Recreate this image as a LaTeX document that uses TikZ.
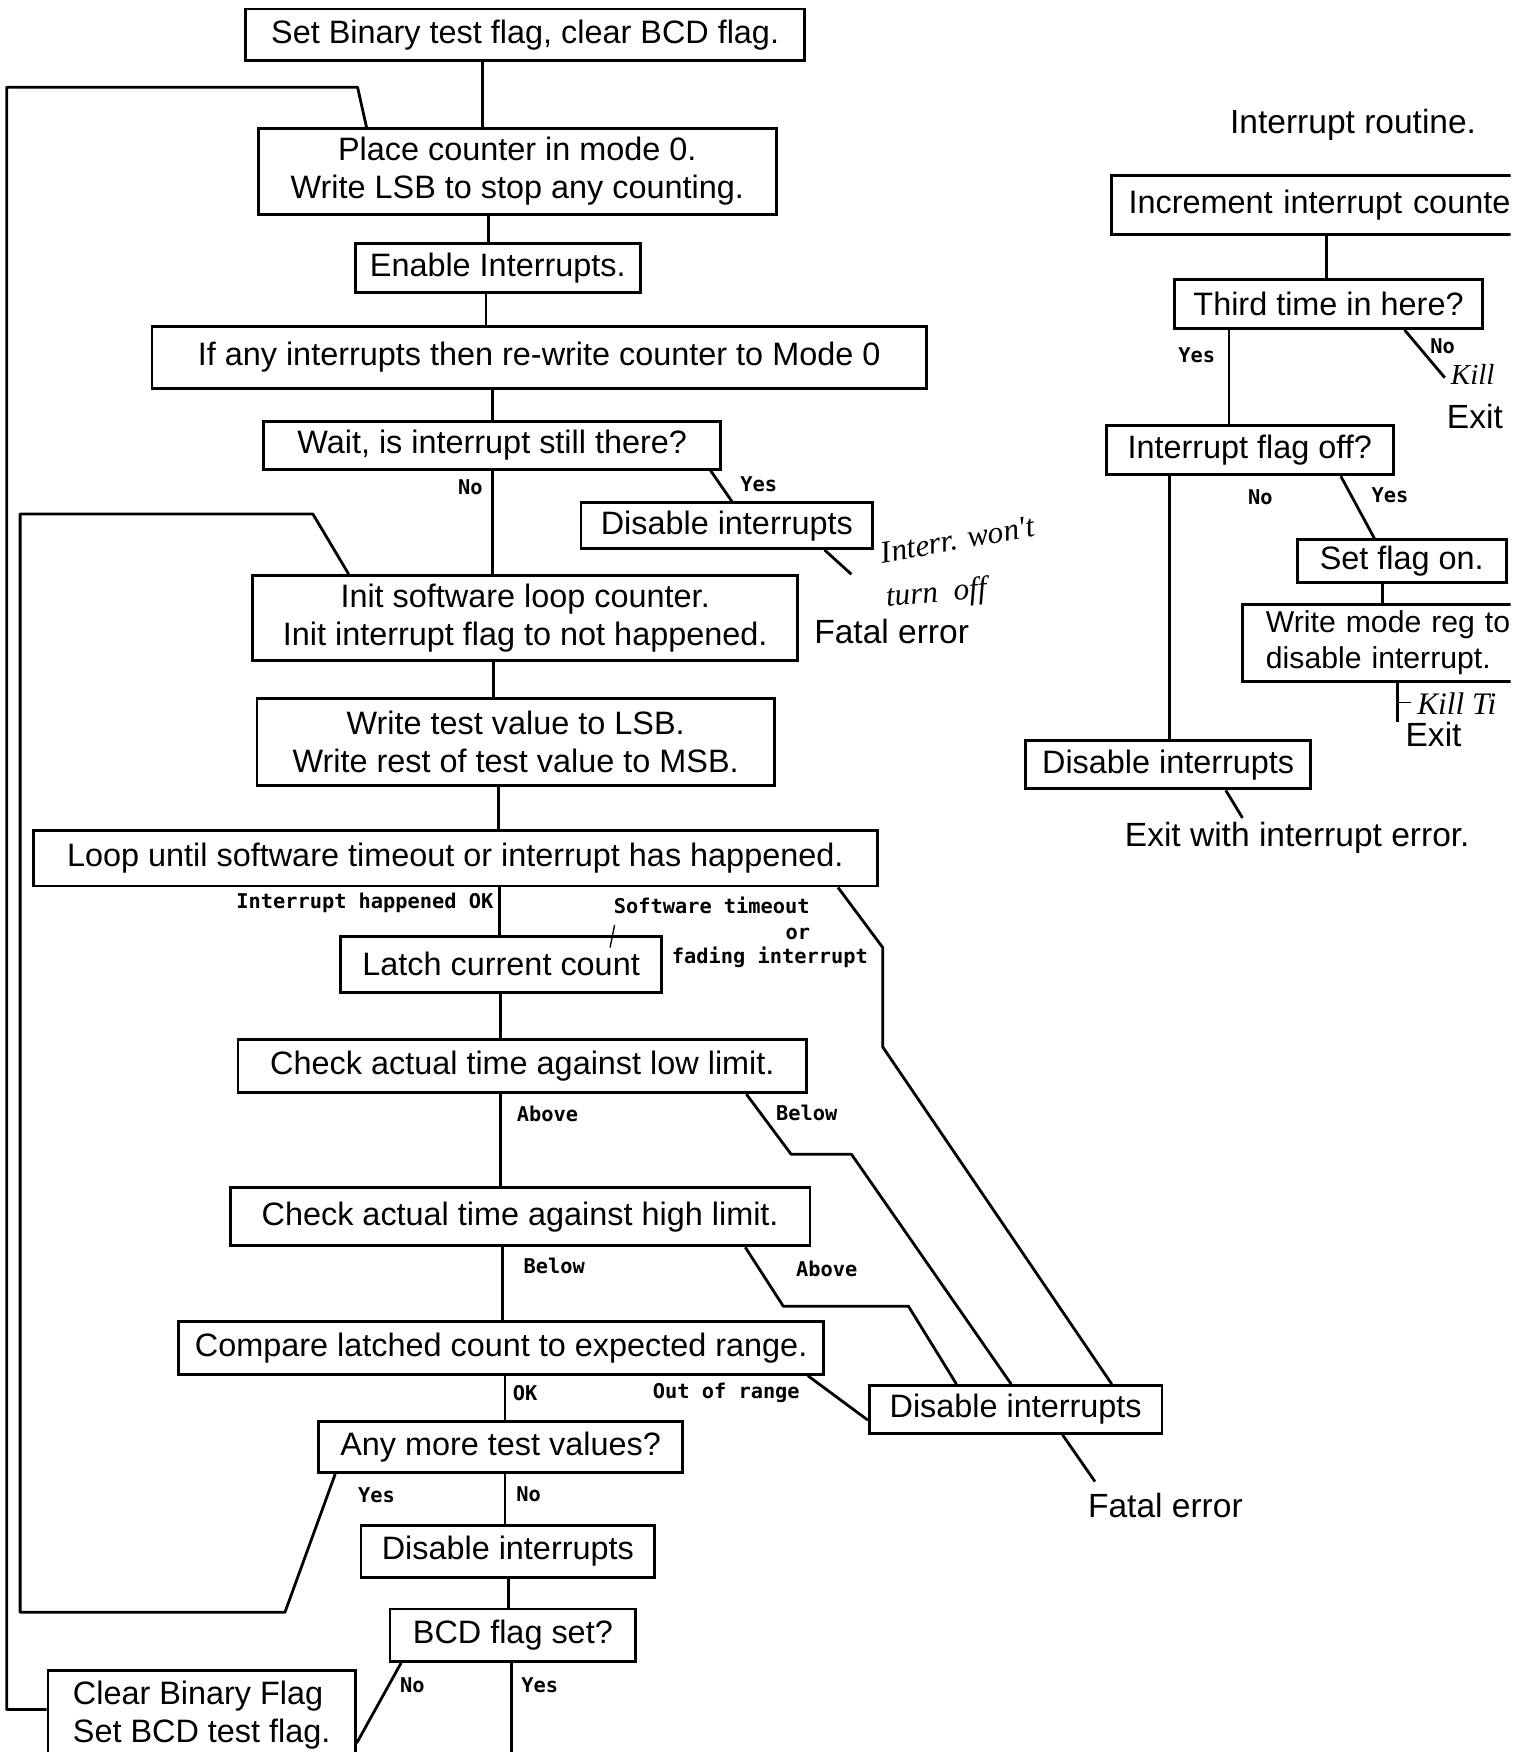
\documentclass[tikz,border=0pt]{standalone}
\usepackage{fontspec}
\usetikzlibrary{calc}
\setmainfont{Liberation Sans}
\newfontfamily\lblfont{DejaVu Sans Mono}
\newfontfamily\handfont{Liberation Serif}
\tikzset{
  box/.style={draw, line width=1.25pt, inner sep=0pt, align=center, font=\fontsize{14.5}{17}\selectfont},
  lbl/.style={inner sep=0pt, font=\lblfont\bfseries\fontsize{9.1}{10}\selectfont},
  txt/.style={inner sep=0pt, font=\fontsize{15}{17}\selectfont},
  hand/.style={inner sep=0pt, font=\handfont\itshape\fontsize{14}{14}\selectfont},
  conn/.style={line width=1.25pt, line join=round},
}
\newcommand\bx[7][]{\node[box, minimum width={(#4-#2)*0.5pt}, minimum height={(#5-#3)*0.5pt}, #1] (#6) at ({(#2+#4)/2},{(#3+#5)/2}) {#7};}
\begin{document}
\begin{tikzpicture}[x=0.5pt,y=-0.5pt]
\useasboundingbox (0,0) rectangle (1361,1568);
\clip (0,0) rectangle (1352,1568);
% main column
\bx{220}{8}{720}{54}{A}{Set Binary test flag, clear BCD flag.}
\bx{231}{115}{695}{192}{B}{Place counter in mode 0.\\Write LSB to stop any counting.}
\bx{318}{218}{573}{262}{C}{Enable Interrupts.}
\bx{136}{292}{829}{348}{D}{If any interrupts then re-write counter to Mode 0}
\bx{236}{377}{645}{420}{E}{Wait, is interrupt still there?}
\bx{520}{450}{781}{491}{G}{Disable interrupts}
\bx{226}{515}{714}{591}{F}{Init software loop counter.\\Init interrupt flag to not happened.}
\bx{230}{625}{693}{703}{H}{Write test value to LSB.\\Write rest of test value to MSB.}
\bx{30}{743}{785}{793}{I}{Loop until software timeout or interrupt has happened.}
\bx{305}{838}{592}{888}{J}{Latch current count}
\bx{213}{930}{722}{978}{L}{Check actual time against low limit.}
\bx{206}{1063}{725}{1115}{M}{Check actual time against high limit.}
\bx{160}{1183}{737}{1230}{N}{Compare latched count to expected range.}
\bx{285}{1272}{611}{1318}{O}{Any more test values?}
\bx{323}{1365}{586}{1412}{P}{Disable interrupts}
\bx{349}{1440}{569}{1487}{Q}{BCD flag set?}
\bx[align=left]{43}{1495}{318}{1575}{R}{Clear Binary Flag\\Set BCD test flag.}
\bx{778}{1240}{1040}{1283}{K}{Disable interrupts}
% interrupt routine
\bx[align=left, text width=197.5pt, inner xsep=7.5pt]{995}{157}{1420}{210}{S}{Increment interrupt counter}
\bx{1051}{250}{1327}{294}{T}{Third time in here?}
\bx{990}{381}{1247}{425}{U}{Interrupt flag off?}
\bx{1161}{483}{1348}{521}{W}{Set flag on.}
\bx[align=left, text width=133pt, inner xsep=10.5pt, font=\fontsize{13.5}{16}\selectfont]{1112}{541}{1420}{610}{X}{Write mode reg to\\disable interrupt.}
\bx{918}{663}{1173}{706}{V}{Disable interrupts}
% free texts
\node[txt] (fatal1) at (798,565) {Fatal error};
\node[txt] (fatal2) at (1043,1347) {Fatal error};
\node[txt] (title) at (1211,112) {Interrupt routine.};
\node[txt] (exit1) at (1320,373) {Exit};
\node[txt] (exit2) at (1283,657) {Exit};
\node[txt] (exit3) at (1161,750) {Exit with interrupt error.};
% labels
\node[lbl] (lNo1) at (421,436) {No};
\node[lbl] (lYes1) at (679,433) {Yes};
\node[lbl, anchor=east] (lIH) at (442,808) {Interrupt happened OK};
\node[lbl] (lST1) at (637,810) {Software timeout};
\node[lbl] (lST2) at (714,836) {or};
\node[lbl] (lST3) at (689,857) {fading interrupt};
\node[lbl] (lAb1) at (490,997) {Above};
\node[lbl] (lBe1) at (722,996) {Below};
\node[lbl] (lBe2) at (496,1133) {Below};
\node[lbl] (lAb2) at (740,1136) {Above};
\node[lbl] (lOK) at (470,1247) {OK};
\node[lbl] (lOut) at (650,1247) {Out of range};
\node[lbl] (lYes2) at (337,1338) {Yes};
\node[lbl] (lNo2) at (473,1337) {No};
\node[lbl] (lNo3) at (369,1508) {No};
\node[lbl] (lYes3) at (483,1508) {Yes};
\node[lbl] (rYes1) at (1071,318) {Yes};
\node[lbl] (rNo1) at (1291,310) {No};
\node[lbl] (rNo2) at (1128,445) {No};
\node[lbl] (rYes2) at (1244,443) {Yes};
% handwriting
\node[hand, rotate=10] (h1) at (857,483) {Interr. won't};
\node[hand, rotate=5] (h2) at (838,532) {turn\ \ off};
\node[hand, font=\handfont\itshape\fontsize{13}{13}\selectfont] (h3) at (1318,335) {Kill};
\node[hand, anchor=west] (h4) at (1268,630) {Kill Ti};
% connectors main
\coordinate (g1) at (762,514);
\coordinate (k1) at (980,1326);
\coordinate (qend) at (458,1580);
\coordinate (t1) at (1293,338);
\coordinate (x1) at (1251,646);
\coordinate (v1) at (1112,732);
\coordinate (tk) at (550,828);
\draw[conn] (A.south -| 432,0) -- (B.north -| 432,0);
\draw[conn] (B.south -| 437,0) -- (C.north -| 437,0);
\draw[conn] (C.south -| 435,0) -- (D.north -| 435,0);
\draw[conn] (D.south -| 441,0) -- (E.north -| 441,0);
\draw[conn] (E.south -| 441,0) -- (F.north -| 441,0);
\draw[conn] (E.south -| 636,0) -- (G.north -| 655,0);
\draw[conn] (G.south -| 738,0) -- (g1);
\draw[conn] (F.south -| 442,0) -- (H.north -| 442,0);
\draw[conn] (H.south -| 446,0) -- (I.north -| 446,0);
\draw[conn] (I.south -| 447,0) -- (J.north -| 447,0);
\draw[conn] (I.south -| 750,0) -- (790,848) -- (790,937) -- (K.north -| 995,0);
\draw[conn] (J.south -| 448,0) -- (L.north -| 448,0);
\draw[conn] (L.south -| 448,0) -- (M.north -| 448,0);
\draw[conn] (L.south -| 668,0) -- (708,1033) -- (762,1033) -- (K.north -| 905,0);
\draw[conn] (M.south -| 450,0) -- (N.north -| 450,0);
\draw[conn] (M.south -| 667,0) -- (701,1169) -- (813,1169) -- (K.north -| 856,0);
\draw[conn] (N.south -| 452,0) -- (O.north -| 452,0);
\draw[conn] (N.south -| 723,0) -- (K.west |- 0,1271);
\draw[conn] (O.south -| 452,0) -- (P.north -| 452,0);
\draw[conn] (O.south -| 300,0) -- (255,1443) -- (18,1443) -- (18,460) -- (280,460) -- (F.north -| 312,0);
\draw[conn] (P.south -| 455,0) -- (Q.north -| 455,0);
\draw[conn] (Q.south -| 359,0) -- (R.east |- 0,1560);
\draw[conn] (Q.south -| 458,0) -- (qend);
\draw[conn] (R.west |- 0,1530) -- (6,1530) -- (6,78) -- (320,78) -- (B.north -| 328,0);
\draw[conn] (K.south -| 951,0) -- (k1);
\draw[line width=0.6pt] (tk) -- ++(-4,20);
% connectors interrupt routine
\draw[conn] (S.south -| 1187,0) -- (T.north -| 1187,0);
\draw[conn] (T.south -| 1100,0) -- (U.north -| 1100,0);
\draw[conn] (T.south -| 1257,0) -- (t1);
\draw[conn] (U.south -| 1047,0) -- (V.north -| 1047,0);
\draw[conn] (U.south -| 1200,0) -- (W.north -| 1230,0);
\draw[conn] (W.south -| 1237,0) -- (X.north -| 1237,0);
\draw[conn] (X.south -| 1251,0) -- (x1);
\draw[line width=0.8pt] ($(X.south -| 1251,0)!0.5!(x1)$) -- ++(12,0);
\draw[conn] (V.south -| 1097,0) -- (v1);
\end{tikzpicture}
\end{document}
